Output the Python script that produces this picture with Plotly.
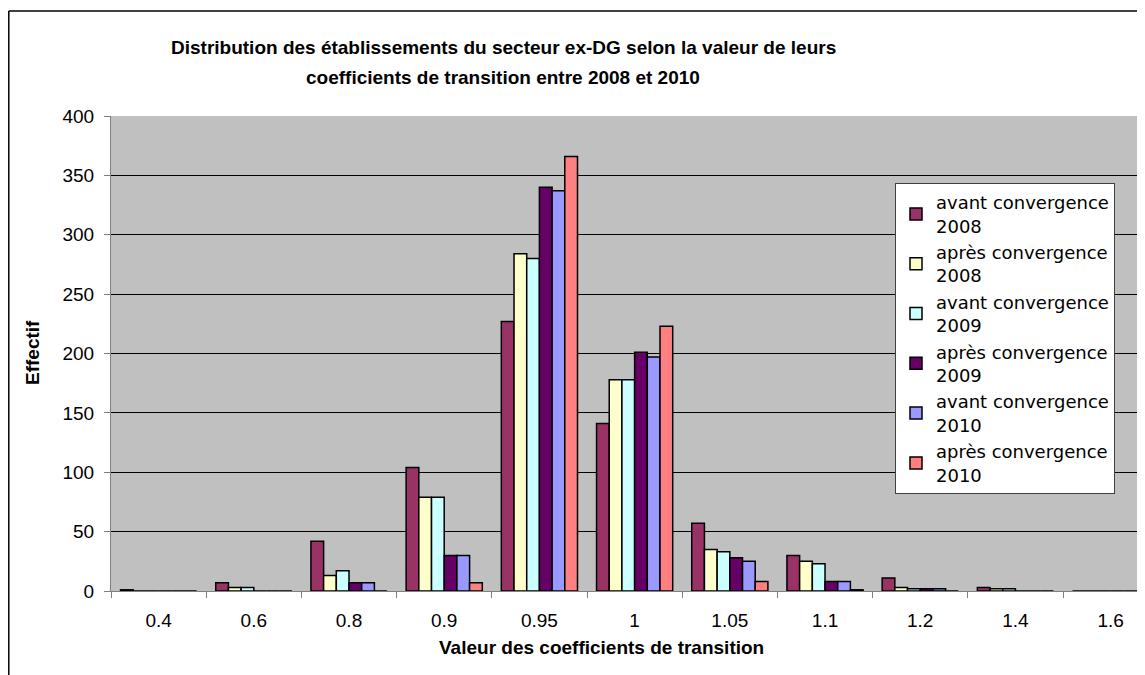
"""Distribution des établissements du secteur ex-DG — coefficients de transition."""
import plotly.graph_objects as go

# catégories (valeur du coefficient de transition)
CATEGORIES = ["0.4", "0.6", "0.8", "0.9", "0.95", "1", "1.05", "1.1", "1.2", "1.4", "1.6"]

AVANT_2008 = [1, 7, 42, 104, 227, 141, 57, 30, 11, 3, 0]
APRES_2008 = [0, 3, 13, 79, 284, 178, 35, 25, 3, 2, 0]
AVANT_2009 = [0, 3, 17, 79, 280, 178, 33, 23, 2, 2, 0]
APRES_2009 = [0, 0, 7, 30, 340, 201, 28, 8, 2, 0, 0]
AVANT_2010 = [0, 0, 7, 30, 337, 197, 25, 8, 2, 0, 0]
APRES_2010 = [0, 0, 0, 7, 366, 223, 8, 1, 0, 0, 0]

SERIES = [
    ("avant convergence<br>2008", AVANT_2008, "#993366"),
    ("après convergence<br>2008", APRES_2008, "#FFFFCC"),
    ("avant convergence<br>2009", AVANT_2009, "#CCFFFF"),
    ("après convergence<br>2009", APRES_2009, "#660066"),
    ("avant convergence<br>2010", AVANT_2010, "#9999FF"),
    ("après convergence<br>2010", APRES_2010, "#FF8080"),
]

FONT = "Liberation Sans, Arial, sans-serif"
W, H = 1145, 675
OFF = 8  # marge du <body> de la page html
L, R, T = 111 - OFF, 0, 116 - OFF
B = H - (591 - OFF)
PW, PH = W - L - R, H - T - B


def px_x(x):
    """position x de la page -> fraction 'paper'."""
    return (x - OFF - L) / PW


def px_y(y):
    """position y de la page -> fraction 'paper'."""
    return (H - B - (y - OFF)) / PH


fig = go.Figure()
for name, values, color in SERIES:
    fig.add_trace(
        go.Bar(
            x=CATEGORIES,
            y=values,
            name=name,
            marker=dict(color=color, line=dict(color="#000000", width=1.5)),
        )
    )

fig.update_layout(
    width=W,
    height=H,
    margin=dict(l=L, r=R, t=T, b=B),
    paper_bgcolor="white",
    plot_bgcolor="#C0C0C0",
    barmode="group",
    bargap=0.2,
    bargroupgap=0,
    font=dict(family=FONT, size=19, color="#000000"),
    showlegend=True,
    legend=dict(
        x=px_x(895),
        y=px_y(183),
        xanchor="left",
        yanchor="top",
        bgcolor="white",
        bordercolor="#404040",
        borderwidth=1,
        font=dict(family="DejaVu Sans, sans-serif", size=18, color="#000000"),
        tracegroupgap=0,
    ),
    xaxis=dict(
        type="category",
        range=[-0.5, 10.445],
        showgrid=False,
        showline=True,
        linecolor="#808080",
        linewidth=1,
        ticks="outside",
        tickson="boundaries",
        ticklen=6,
        tickcolor="#808080",
        ticklabelstandoff=12,
        tickfont=dict(size=19),
    ),
    yaxis=dict(
        range=[0, 400],
        dtick=50,
        showgrid=True,
        gridcolor="#000000",
        gridwidth=1,
        showline=True,
        linecolor="#808080",
        linewidth=1,
        ticks="outside",
        ticklen=6,
        tickcolor="#808080",
        ticklabelstandoff=6,
        tickfont=dict(size=19),
        zeroline=False,
    ),
    annotations=[
        dict(
            text="<b>Distribution des établissements du secteur ex-DG selon la valeur de leurs</b>",
            xref="paper", yref="paper", x=px_x(503), y=px_y(47),
            xanchor="center", yanchor="middle", showarrow=False,
            font=dict(family=FONT, size=19),
        ),
        dict(
            text="<b>coefficients de transition entre 2008 et 2010</b>",
            xref="paper", yref="paper", x=px_x(503), y=px_y(78),
            xanchor="center", yanchor="middle", showarrow=False,
            font=dict(family=FONT, size=19),
        ),
        dict(
            text="<b>Valeur des coefficients de transition</b>",
            xref="paper", yref="paper", x=px_x(601), y=px_y(647),
            xanchor="center", yanchor="middle", showarrow=False,
            font=dict(family=FONT, size=19),
        ),
        dict(
            text="<b>Effectif</b>",
            xref="paper", yref="paper", x=px_x(32), y=px_y(353),
            xanchor="center", yanchor="middle", showarrow=False, textangle=-90,
            font=dict(family=FONT, size=19),
        ),
    ],
    shapes=[
        # cadre du graphique (bords gauche et haut)
        dict(type="line", xref="paper", yref="paper",
             x0=px_x(8.8), x1=px_x(8.8), y0=px_y(11), y1=px_y(H + OFF),
             line=dict(color="#000000", width=1.5)),
        dict(type="line", xref="paper", yref="paper",
             x0=px_x(8.8), x1=px_x(W + OFF), y0=px_y(11), y1=px_y(11),
             line=dict(color="#000000", width=1.5)),
    ],
)

fig.write_html("out.html")
